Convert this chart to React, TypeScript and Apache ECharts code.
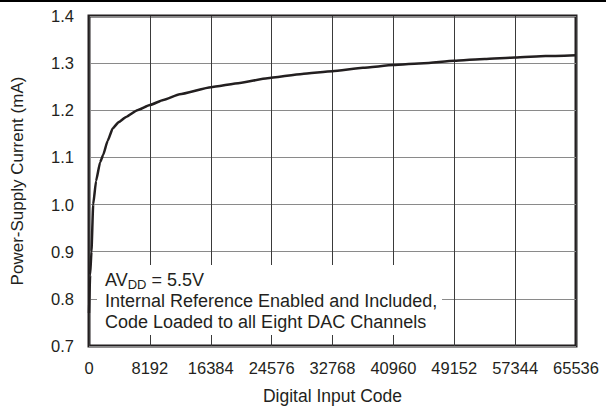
import React, { useEffect, useRef } from "react";
import * as echarts from "echarts";

const codes = [0, 150, 330, 560, 950, 1500, 1900, 2500, 3200, 4000, 5000, 6500, 8192, 10000, 12200, 16400, 20300, 24000, 28672, 32768, 36864, 40960, 45056, 49152, 53248, 57344, 61440, 65536];
const current = [0.77, 0.85, 0.9, 1.0, 1.05, 1.09, 1.105, 1.135, 1.162, 1.175, 1.186, 1.2, 1.211, 1.222, 1.234, 1.249, 1.258, 1.268, 1.277, 1.283, 1.29, 1.296, 1.3, 1.305, 1.309, 1.312, 1.315, 1.317];
const xTicks = [0, 8192, 16384, 24576, 32768, 40960, 49152, 57344, 65536];
const yTicks = [0.7, 0.8, 0.9, 1.0, 1.1, 1.2, 1.3, 1.4];
const noteLines = ["Internal Reference Enabled and Included,", "Code Loaded to all Eight DAC Channels"];

const FONT = "'Liberation Sans', Arial, Helvetica, sans-serif";
const INK = "#231f20";

export default function App() {
  const ref = useRef<HTMLDivElement>(null);
  useEffect(() => {
    if (!ref.current) return;
    const chart = echarts.init(ref.current, null, { renderer: "svg" });
    chart.setOption({
      animation: false,
      backgroundColor: "#ffffff",
      textStyle: { fontFamily: FONT, color: INK },
      grid: [
        {
          left: 89,
          top: 16,
          right: 30,
          bottom: 64,
          show: true,
          borderColor: INK,
          borderWidth: 3,
          containLabel: false,
          outerBoundsMode: "none",
        },
        {
          left: 0,
          right: 0,
          top: 0,
          height: 2,
          show: true,
          backgroundColor: "#000000",
          borderWidth: 0,
          containLabel: false,
          outerBoundsMode: "none",
        },
      ],
      xAxis: [
        {
          type: "value",
          gridIndex: 0,
          min: xTicks[0],
          max: xTicks[xTicks.length - 1],
          interval: 8192,
          name: "Digital Input Code",
          nameLocation: "middle",
          nameGap: 41,
          nameTextStyle: { fontFamily: FONT, fontSize: 17.5, color: INK },
          axisLine: { show: false },
          axisTick: { show: false },
          axisLabel: {
            fontFamily: FONT,
            fontSize: 16.5,
            color: INK,
            margin: 13,
            formatter: (v: number) => String(v),
          },
          splitLine: { show: true, lineStyle: { color: "#3a3a3a", width: 1 } },
        },
        { type: "value", gridIndex: 1, show: false },
      ],
      yAxis: [
        {
          type: "value",
          gridIndex: 0,
          min: yTicks[0],
          max: yTicks[yTicks.length - 1],
          interval: 0.1,
          name: "Power-Supply Current (mA)",
          nameLocation: "middle",
          nameGap: 63,
          nameRotate: 90,
          nameTextStyle: { fontFamily: FONT, fontSize: 17, color: INK },
          axisLine: { show: false },
          axisTick: { show: false },
          axisLabel: {
            fontFamily: FONT,
            fontSize: 16.5,
            color: INK,
            margin: 15,
            formatter: (v: number) => v.toFixed(1),
          },
          splitLine: { show: true, lineStyle: { color: "#8a8a8a", width: 1 } },
        },
        { type: "value", gridIndex: 1, show: false },
      ],
      series: [
        {
          type: "line",
          xAxisIndex: 0,
          yAxisIndex: 0,
          data: codes.map((c, i) => [c, current[i]]),
          showSymbol: false,
          smooth: 0.15,
          smoothMonotone: "x",
          lineStyle: { color: INK, width: 2.5 },
          z: 5,
        },
      ],
      graphic: [
        {
          type: "rect",
          shape: { x: 97, y: 265, width: 345, height: 70 },
          style: { fill: "#ffffff" },
          z: 10,
        },
        {
          type: "text",
          x: 105,
          y: 280,
          z: 11,
          style: {
            text: "{a|AV}{s|DD}{a| = 5.5V}",
            fill: INK,
            verticalAlign: "middle",
            rich: {
              a: { fontFamily: FONT, fontSize: 18, fill: INK, color: INK },
              s: { fontFamily: FONT, fontSize: 13, fill: INK, color: INK, padding: [9, 0, 0, 0] },
            },
          },
        },
        ...noteLines.map((t, i) => ({
          type: "text",
          x: 105,
          y: 301 + i * 21,
          z: 11,
          style: {
            text: t,
            fontFamily: FONT,
            fontSize: 18,
            fill: INK,
            verticalAlign: "middle",
          },
        })),
      ],
    });
    return () => chart.dispose();
  }, []);
  return <div ref={ref} style={{ width: 606, height: 410, position: "absolute", left: 0, top: 0 }} />;
}
